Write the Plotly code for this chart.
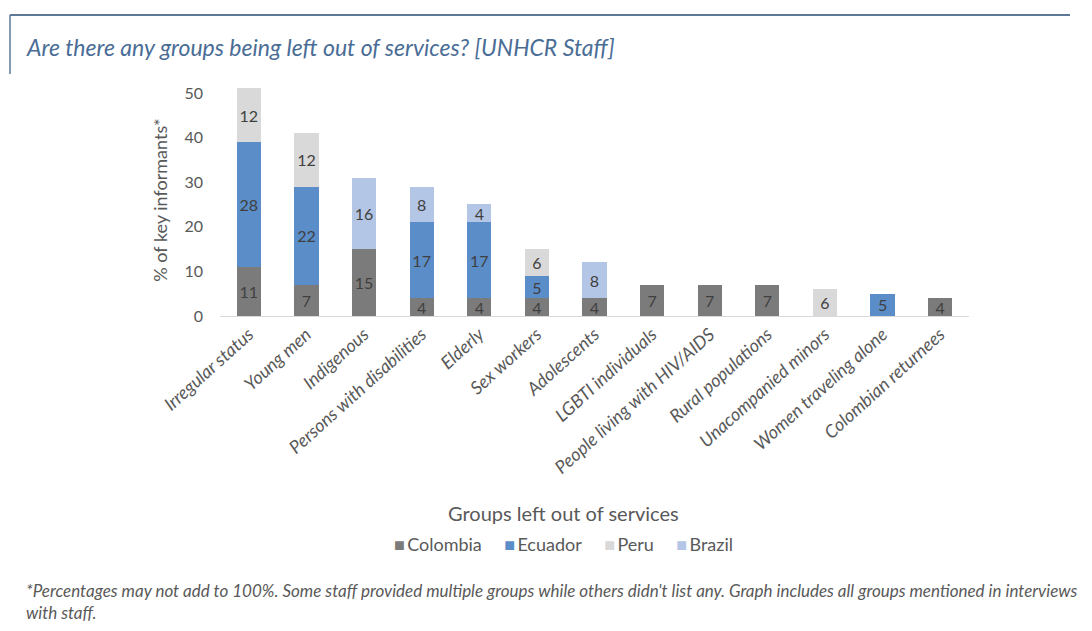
import plotly.graph_objects as go

categories = [
    "Irregular status", "Young men", "Indigenous", "Persons with disabilities",
    "Elderly", "Sex workers", "Adolescents", "LGBTI individuals",
    "People living with HIV/AIDS", "Rural populations", "Unacompanied minors",
    "Women traveling alone", "Colombian returnees",
]
colombia = [11, 7, 15, 4, 4, 4, 4, 7, 7, 7, None, None, 4]
ecuador = [28, 22, None, 17, 17, 5, None, None, None, None, None, 5, None]
peru = [12, 12, None, None, None, 6, None, None, None, None, 6, None, None]
brazil = [None, None, 16, 8, 4, None, 8, None, None, None, None, None, None]
y_ticks = [0, 10, 20, 30, 40, 50]

FONT = "Lato, 'Open Sans', sans-serif"
series = [
    ("Colombia", colombia, "#7b7b7b"),
    ("Ecuador", ecuador, "#5b8dc8"),
    ("Peru", peru, "#d9d9d9"),
    ("Brazil", brazil, "#b4c6e6"),
]

fig = go.Figure()
for name, vals, color in series:
    fig.add_trace(go.Bar(
        x=categories, y=vals, name=name,
        marker=dict(color=color, line=dict(width=0)),
        text=[("" if v is None else str(v)) for v in vals],
        textposition="inside", insidetextanchor="middle", textangle=0,
        textfont=dict(family=FONT, size=16, color="#3f3f3f"),
        constraintext="none",
    ))

W, H = 1092, 631
L, R, T, B = 220, 123, 84, 315
PW, PH = W - L - R, H - T - B


def px_x(x):
    return (x - L) / PW


def px_y(y):
    return (H - B - y) / PH


fig.update_layout(
    width=W, height=H, barmode="stack", bargap=0.58,
    margin=dict(l=L, r=R, t=T, b=B),
    paper_bgcolor="white", plot_bgcolor="white",
    font=dict(family=FONT, color="#595959"),
    uniformtext=dict(minsize=16, mode="show"),
    showlegend=False,
    xaxis=dict(
        tickangle=-42, showgrid=False, showline=True,
        linecolor="#d9d9d9", linewidth=1, ticks="",
        tickfont=dict(family=FONT, size=18, color="#595959", style="italic"),
        range=[-0.5, 12.5],
    ),
    yaxis=dict(
        range=[0, 52], tickvals=y_ticks, showgrid=False, zeroline=False,
        showline=False, ticks="", ticklabelstandoff=16,
        tickfont=dict(family=FONT, size=16, color="#595959"),
        title=dict(text="% of key informants*", standoff=12,
                   font=dict(family=FONT, size=18, color="#595959")),
    ),
)

# x-axis title
fig.add_annotation(
    text="Groups left out of services", xref="paper", yref="paper",
    x=px_x(563), y=px_y(513),
    showarrow=False, xanchor="center", yanchor="middle",
    font=dict(family=FONT, size=20, color="#595959"),
)

# legend row
gap = "\u2003\u2002"
legend_html = gap.join(
    f"<span style='color:{color}'>■</span>\u2009{name}" for name, _, color in series
)
fig.add_annotation(
    text=legend_html, xref="paper", yref="paper",
    x=px_x(563), y=px_y(544),
    showarrow=False, xanchor="center", yanchor="middle",
    font=dict(family=FONT, size=18, color="#595959"),
)

# heading
fig.add_annotation(
    text="<i>Are there any groups being left out of services? [UNHCR Staff]</i>",
    xref="paper", yref="paper", x=px_x(24),
    y=px_y(47),
    showarrow=False, xanchor="left", yanchor="middle",
    font=dict(family=FONT, size=23, color="#4a6d96"),
)

# footnote
fig.add_annotation(
    text="<i>*Percentages may not add to 100%. Some staff provided multiple groups while others didn't list any. Graph includes all groups mentioned in interviews<br>with staff.</i>",
    xref="paper", yref="paper", x=px_x(24),
    y=px_y(601),
    showarrow=False, xanchor="left", yanchor="middle", align="left",
    font=dict(family=FONT, size=17, color="#595959"),
)

# heading frame lines
fig.add_shape(type="line", xref="paper", yref="paper",
              x0=px_x(10), x1=px_x(1070), y0=px_y(15), y1=px_y(15),
              line=dict(color="#5e7895", width=2))
fig.add_shape(type="line", xref="paper", yref="paper",
              x0=px_x(10), x1=px_x(10), y0=px_y(15), y1=px_y(74),
              line=dict(color="#5e7895", width=1.5))

fig.write_html("out.html")
